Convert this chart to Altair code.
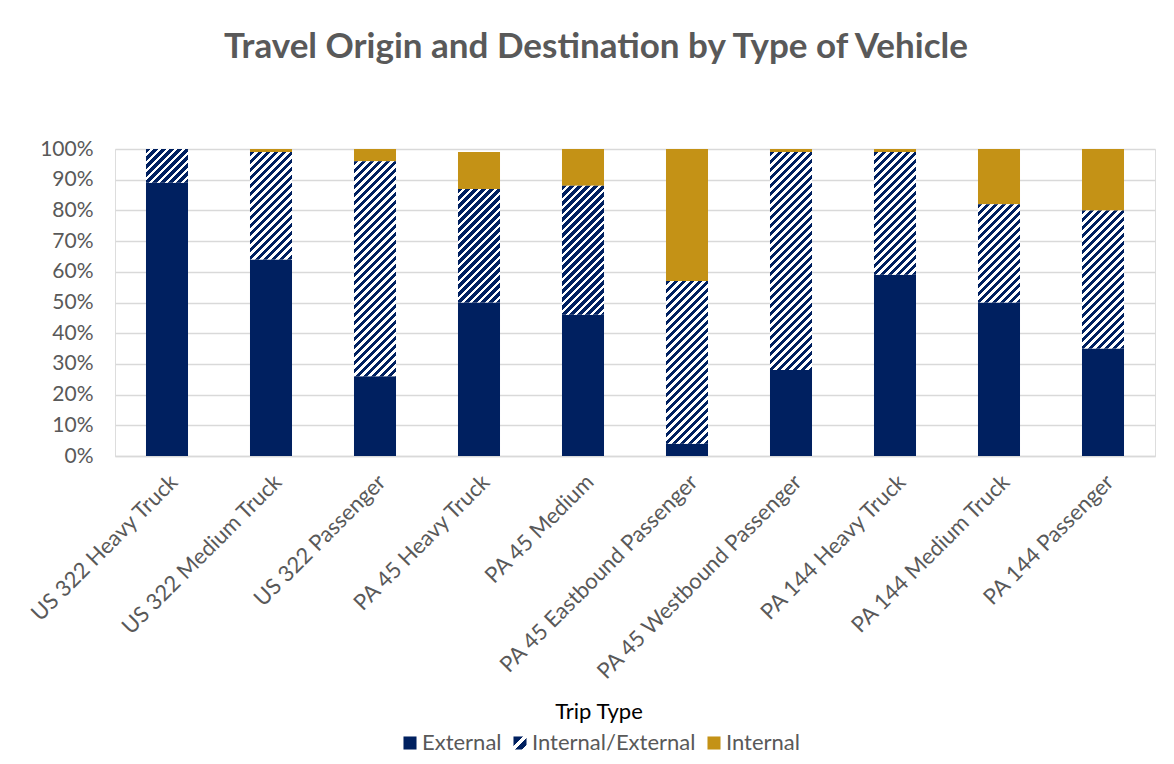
import math
import altair as alt
import pandas as pd

# ---------------- data ----------------
categories = [
    "US 322 Heavy Truck", "US 322 Medium Truck", "US 322 Passenger",
    "PA 45 Heavy Truck", "PA 45 Medium", "PA 45 Eastbound Passenger",
    "PA 45 Westbound Passenger", "PA 144 Heavy Truck", "PA 144 Medium Truck",
    "PA 144 Passenger",
]
external = [89, 64, 26, 50, 46, 4, 28, 59, 50, 35]
internal_external = [11, 35, 70, 37, 42, 53, 71, 40, 32, 45]
internal = [0, 1, 4, 12, 12, 43, 1, 1, 18, 20]
trip_types = ["External", "Internal/External", "Internal"]
y_ticks = [0, 0.1, 0.2, 0.3, 0.4, 0.5, 0.6, 0.7, 0.8, 0.9, 1.0]

# ---------------- style ----------------
NAVY = "#002060"
GOLD = "#C49216"
WHITE = "#FFFFFF"
GRAY_TXT = "#595959"
GRID = "#D9D9D9"
FONT = "Lato"
W, H = 1040, 307
PAD_INNER, PAD_OUTER = 0.596, 0.298
STEP = W / (len(categories) - PAD_INNER + 2 * PAD_OUTER)
BAR_W = STEP * (1 - PAD_INNER)
PERIOD = 8.0      # horizontal period of the hatch, px
NAVY_FRAC = 0.56  # share of each period that is navy


def hatch_gradient(w, h):
    """45-degree '/' hatch as a linear gradient in bounding-box units."""
    total = w + h
    k = total / (w * w + h * h)
    stops = []
    j = 0
    while j * PERIOD < total:
        a = j * PERIOD / total
        b = min((j + NAVY_FRAC) * PERIOD / total, 1.0)
        c = min((j + 1) * PERIOD / total, 1.0)
        stops += [
            {"offset": a, "color": NAVY},
            {"offset": b, "color": NAVY},
            {"offset": b, "color": WHITE},
            {"offset": c, "color": WHITE},
        ]
        j += 1
    return {"gradient": "linear", "x1": 0, "y1": 0,
            "x2": w * k, "y2": h * k, "stops": stops}


legend_stops = [(0, NAVY), (0.36, NAVY), (0.36, WHITE), (0.54, WHITE),
                (0.54, NAVY), (0.84, NAVY), (0.84, WHITE), (1, WHITE)]
legend_grad_expr = (
    "{'gradient':'linear','x1':0,'y1':0,'x2':1,'y2':1,'stops':["
    + ",".join("{'offset':%s,'color':'%s'}" % (o, c) for o, c in legend_stops)
    + "]}"
)

rows = []
for i, c in enumerate(categories):
    s = 0
    for t, v in zip(trip_types, [external[i], internal_external[i], internal[i]]):
        rows.append({"category": c, "type": t, "start": s / 100, "end": (s + v) / 100})
        s += v
df = pd.DataFrame(rows)

x_enc = alt.X(
    "category:N", sort=categories,
    scale=alt.Scale(paddingInner=PAD_INNER, paddingOuter=PAD_OUTER),
    axis=alt.Axis(title=None, labelAngle=-45, labelAlign="right", labelBaseline="top",
                  labelPadding=15, labelOffset=0, labelFont=FONT, labelFontSize=22,
                  labelColor=GRAY_TXT, ticks=False, domain=True, domainColor=GRID,
                  domainWidth=1.5, grid=False, labelLimit=400),
)
y_enc = alt.Y(
    "start:Q", scale=alt.Scale(domain=[0, 1], nice=False),
    axis=alt.Axis(title=None, format=".0%", values=y_ticks, labelFont=FONT,
                  labelFontSize=21, labelColor=GRAY_TXT, labelPadding=22,
                  ticks=False, domain=False, grid=True, gridColor=GRID, gridWidth=1.5),
)

base = alt.Chart().transform_filter(alt.datum.type != "Internal/External").mark_bar().encode(
    x=x_enc, y=y_enc, y2="end:Q",
    color=alt.Color(
        "type:N",
        scale=alt.Scale(domain=trip_types, range=[NAVY, {"expr": legend_grad_expr}, GOLD]),
        legend=alt.Legend(
            title="Trip Type", orient="none", legendX=284, legendY=553,
            direction="horizontal", titleAnchor="middle", titleOrient="top",
            titleFont=FONT, titleFontSize=22, titleFontWeight=400, titleColor="#000000",
            titlePadding=8, labelFont=FONT, labelFontSize=22, labelColor=GRAY_TXT,
            symbolType="square", symbolSize=170, symbolStrokeWidth=0, labelOffset=1,
            columnPadding=7, padding=0, labelLimit=400,
        ),
    ),
)

layers = [base]
for i, c in enumerate(categories):
    grad = hatch_gradient(BAR_W, internal_external[i] / 100 * H)
    layers.append(
        alt.Chart()
        .transform_filter((alt.datum.category == c) & (alt.datum.type == "Internal/External"))
        .mark_bar(color=grad)
        .encode(x=x_enc, y=y_enc, y2="end:Q")
    )

chart = (
    alt.layer(*layers, data=df)
    .properties(
        width=W, height=H,
        title=alt.TitleParams(
            "Travel Origin and Destination by Type of Vehicle",
            font=FONT, fontSize=35, fontWeight="bold", color=GRAY_TXT,
            anchor="middle", frame="group", dx=-39, offset=45, baseline="alphabetic",
        ),
        autosize=alt.AutoSizeParams(type="none"),
        padding={"left": 107, "top": 141, "right": 11, "bottom": 300},
    )
    .configure_view(stroke=None)
    .configure(background="white")
)

chart.save("out.html", embed_options={"renderer": "svg", "actions": False})
